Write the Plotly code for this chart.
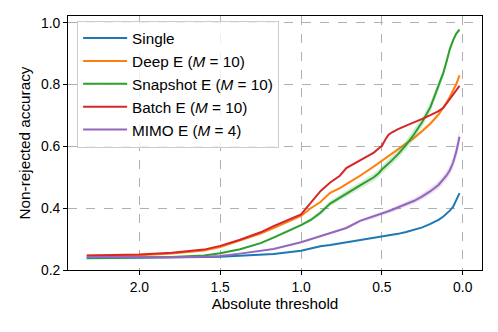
import plotly.graph_objects as go

# thresholds shared by all methods (x axis, drawn reversed)
thresholds = [2.325, 2.0, 1.8, 1.6, 1.5, 1.377, 1.25, 1.17, 1.0, 0.94, 0.88, 0.82, 0.76, 0.72,
              0.635, 0.55, 0.52, 0.5, 0.48, 0.46, 0.44, 0.4, 0.35, 0.3, 0.25, 0.2, 0.15, 0.12,
              0.1, 0.08, 0.06, 0.04, 0.02]

single = [0.238, 0.239, 0.240, 0.242, 0.243, 0.246, 0.249, 0.252, 0.262, 0.270, 0.277, 0.281,
          0.286, 0.289, 0.298, 0.304, 0.306, 0.308, 0.310, 0.311, 0.313, 0.317, 0.323, 0.330,
          0.338, 0.349, 0.362, 0.373, 0.382, 0.392, 0.404, 0.424, 0.449]
deep = [0.246, 0.248, 0.253, 0.263, 0.274, 0.295, 0.318, 0.336, 0.375, 0.400, 0.420, 0.450,
        0.465, 0.478, 0.505, 0.535, 0.546, 0.553, 0.560, 0.567, 0.574, 0.590, 0.609, 0.628,
        0.650, 0.674, 0.703, 0.724, 0.742, 0.760, 0.780, 0.802, 0.830]
snapshot = [0.239, 0.240, 0.242, 0.247, 0.254, 0.267, 0.287, 0.305, 0.345, 0.362, 0.385, 0.415,
            0.435, 0.447, 0.474, 0.500, 0.513, 0.525, 0.534, 0.544, 0.554, 0.575, 0.605, 0.640,
            0.680, 0.727, 0.795, 0.838, 0.875, 0.915, 0.943, 0.965, 0.978]
batch = [0.247, 0.250, 0.256, 0.266, 0.278, 0.298, 0.322, 0.342, 0.380, 0.418, 0.455, 0.483,
         0.505, 0.530, 0.555, 0.580, 0.593, 0.602, 0.621, 0.637, 0.645, 0.656, 0.667, 0.677,
         0.689, 0.701, 0.714, 0.725, 0.740, 0.752, 0.767, 0.781, 0.796]
mimo = [0.242, 0.241, 0.241, 0.243, 0.245, 0.253, 0.262, 0.268, 0.290, 0.300, 0.310, 0.318,
        0.329, 0.336, 0.359, 0.373, 0.378, 0.382, 0.386, 0.390, 0.394, 0.402, 0.413, 0.424,
        0.438, 0.455, 0.475, 0.492, 0.506, 0.523, 0.547, 0.583, 0.631]

# spread (std) shown as shaded band
deep_std = [0, 0, 0, 0, 0, 0, 0, 0, 0.002, 0.002, 0.003, 0.003, 0.003, 0.003, 0.004, 0.005,
            0.005, 0.005, 0.005, 0.005, 0.005, 0.006, 0.006, 0.006, 0.006, 0.006, 0.006,
            0.006, 0.006, 0.006, 0.007, 0.008, 0.008]
snapshot_std = [0, 0, 0, 0, 0.001, 0.002, 0.003, 0.004, 0.005, 0.006, 0.008, 0.009, 0.010,
                0.010, 0.011, 0.012, 0.012, 0.013, 0.013, 0.013, 0.013, 0.014, 0.015, 0.016,
                0.016, 0.016, 0.015, 0.013, 0.012, 0.010, 0.008, 0.006, 0.005]
mimo_std = [0, 0, 0, 0, 0, 0.001, 0.001, 0.002, 0.002, 0.003, 0.003, 0.004, 0.004, 0.004,
            0.005, 0.006, 0.006, 0.006, 0.006, 0.007, 0.007, 0.008, 0.008, 0.009, 0.010,
            0.011, 0.012, 0.013, 0.014, 0.015, 0.018, 0.021, 0.025]

labels = ["Single", "Deep E (<i>M</i> = 10)", "Snapshot E (<i>M</i> = 10)",
          "Batch E (<i>M</i> = 10)", "MIMO E (<i>M</i> = 4)"]
colors = ["#1f77b4", "#ff7f0e", "#2ca02c", "#d62728", "#9467bd"]
band_fill = {1: "rgba(255,127,14,0.2)", 2: "rgba(44,160,44,0.2)", 4: "rgba(148,103,189,0.2)"}

series = [single, deep, snapshot, batch, mimo]
spreads = {1: deep_std, 2: snapshot_std, 4: mimo_std}

fig = go.Figure()
for i, ys in enumerate(series):
    if i in spreads:
        sd = spreads[i]
        upper = [y + s for y, s in zip(ys, sd)]
        lower = [y - s for y, s in zip(ys, sd)]
        fig.add_trace(go.Scatter(x=thresholds, y=upper, mode="lines", line=dict(width=0),
                                 showlegend=False, hoverinfo="skip"))
        fig.add_trace(go.Scatter(x=thresholds, y=lower, mode="lines", line=dict(width=0),
                                 fill="tonexty", fillcolor=band_fill[i],
                                 showlegend=False, hoverinfo="skip"))
    fig.add_trace(go.Scatter(x=thresholds, y=ys, mode="lines", name=labels[i],
                             line=dict(color=colors[i], width=2)))

axis_common = dict(showline=True, linecolor="black", linewidth=1, mirror=True,
                   ticks="outside", ticklen=4, tickcolor="black", automargin=False,
                   showgrid=True, gridcolor="#b0b0b0", griddash="dash", gridwidth=1,
                   zeroline=False, tickfont=dict(size=13.9, color="black"))

fig.update_xaxes(range=[2.441, -0.119], tickvals=[2.0, 1.5, 1.0, 0.5, 0.0], tickformat=".1f",
                 title=dict(text="Absolute threshold", font=dict(size=15.3, color="black"),
                            standoff=4),
                 **axis_common)
fig.update_yaxes(range=[0.2, 1.022], tickvals=[0.2, 0.4, 0.6, 0.8, 1.0], tickformat=".1f",
                 title=dict(text="Non-rejected accuracy", font=dict(size=15.3, color="black"),
                            standoff=6),
                 **axis_common)

# page body adds 8px around the figure, so the figure is 8px smaller each way
fig.update_layout(
    width=490, height=324,
    margin=dict(l=60, r=16, t=8, b=62),
    plot_bgcolor="white", paper_bgcolor="white",
    font=dict(family="Liberation Sans, Arial, sans-serif", size=15.3, color="black"),
    legend=dict(x=0.022, y=0.982, xanchor="left", yanchor="top", itemwidth=44,
                traceorder="normal",
                bgcolor="rgba(255,255,255,0.8)", bordercolor="#cccccc", borderwidth=1,
                font=dict(size=15.3)),
)

fig.write_html("out.html")
